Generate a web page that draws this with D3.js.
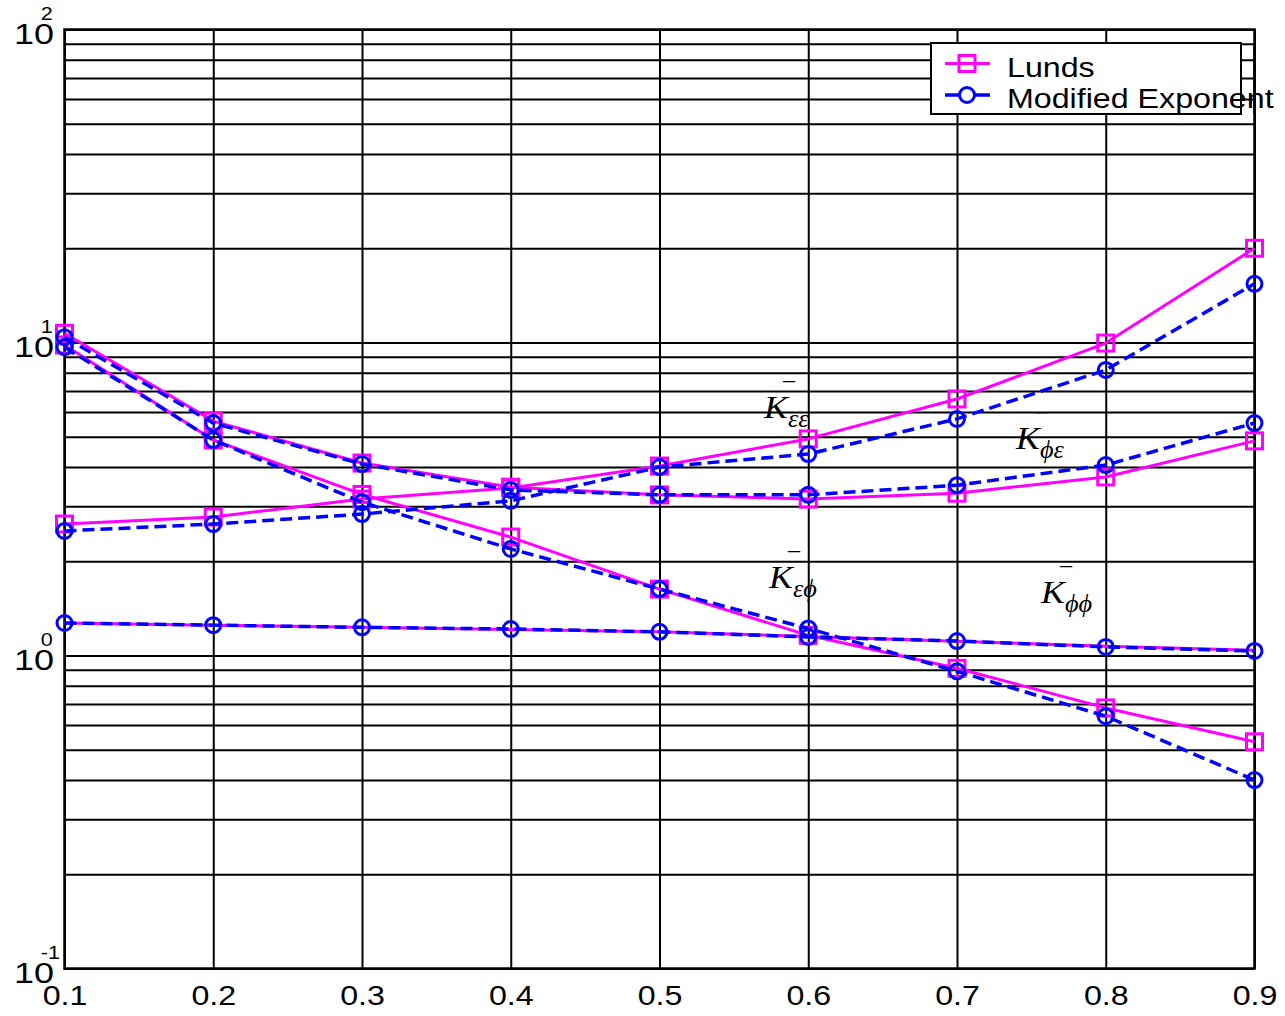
<!DOCTYPE html>
<html>
<head>
<meta charset="utf-8">
<script src="https://cdn.jsdelivr.net/npm/d3@7"></script>
<style>
  body { margin: 0; background: #fff; }
  svg text { font-family: "Liberation Sans", Arial, Helvetica, sans-serif; fill: #000; }
  svg text.math { font-family: "Liberation Serif", "Times New Roman", serif; font-style: italic; }
</style>
</head>
<body>
<svg id="chart" width="1285" height="1016"></svg>
<script>
// ---- data ----
const xValues = [0.1, 0.2, 0.3, 0.4, 0.5, 0.6, 0.7, 0.8, 0.9];
const xTickLabels = ["0.1", "0.2", "0.3", "0.4", "0.5", "0.6", "0.7", "0.8", "0.9"];
const yDecadeExponents = [-1, 0, 1, 2];
const yDecadeLabels = ["-1", "0", "1", "2"];

// K_εε
const lundsKee  = [2.63, 2.77, 3.16, 3.43, 4.03, 4.92, 6.60, 9.96, 20.0];
const modExpKee = [2.50, 2.63, 2.83, 3.12, 4.00, 4.40, 5.70, 8.17, 15.4];
// K_φε
const lundsKpe  = [10.7, 5.61, 4.12, 3.45, 3.26, 3.16, 3.30, 3.72, 4.85];
const modExpKpe = [10.4, 5.53, 4.09, 3.38, 3.26, 3.26, 3.50, 4.06, 5.53];
// K_εφ
const lundsKep  = [9.82, 4.88, 3.27, 2.39, 1.63, 1.16, 0.91, 0.68, 0.53];
const modExpKep = [9.67, 4.88, 3.09, 2.19, 1.63, 1.22, 0.89, 0.64, 0.40];
// K_φφ
const lundsKpp  = [1.27, 1.25, 1.23, 1.21, 1.19, 1.15, 1.11, 1.07, 1.04];
const modExpKpp = [1.27, 1.25, 1.23, 1.215, 1.19, 1.146, 1.112, 1.065, 1.034];

const seriesNames = ["Lunds", "Modified Exponent"];
const curveLabels = [
  { sub: "εε", x: 764, y: 418 },
  { sub: "ϕε", x: 1016, y: 449 },
  { sub: "εϕ", x: 769, y: 588 },
  { sub: "ϕϕ", x: 1041, y: 603 }
];

// ---- layout ----
const M = { left: 64.5, right: 1254.5, top: 29.5, bottom: 968.5 };
const SX = 1.15;           // horizontal stretch of the lettering
const MAGENTA = "#ff00ff", BLUE = "#0000ff";

const x = d3.scaleLinear().domain([0.1, 0.9]).range([M.left, M.right]);
const y = d3.scaleLog().domain([0.1, 100]).range([M.bottom, M.top]);

const svg = d3.select("#chart");

function label(parent, px, py, str, size, anchor, cls, sx = SX) {
  const g = parent.append("g").attr("transform", `translate(${px},${py}) scale(${sx},1)`);
  return g.append("text").attr("class", cls || null)
    .attr("text-anchor", anchor || "start")
    .style("font-size", size + "px").text(str);
}

// horizontal grid (log decades with minor lines)
const yGrid = svg.append("g").attr("transform", `translate(${M.left},0)`)
  .call(d3.axisLeft(y).ticks(10).tickSize(-(M.right - M.left)).tickFormat(""));
yGrid.select(".domain").remove();
yGrid.selectAll("line").attr("stroke", "#000").attr("stroke-width", 2);

// vertical grid + x tick labels
const xAxis = svg.append("g").attr("transform", `translate(0,${M.bottom})`)
  .call(d3.axisBottom(x).tickValues(xValues).tickSize(-(M.bottom - M.top))
    .tickFormat((d, i) => xTickLabels[i]));
xAxis.select(".domain").remove();
xAxis.selectAll("line").attr("stroke", "#000").attr("stroke-width", 2);
xAxis.selectAll("text")
  .attr("y", 36.5).attr("dy", null)
  .attr("transform", `scale(${SX},1)`)
  .style("font-size", "28px")
  .style("font-family", '"Liberation Sans", Arial, sans-serif')
  .attr("fill", "#000");

// axes frame
svg.append("rect")
  .attr("x", M.left).attr("y", M.top)
  .attr("width", M.right - M.left).attr("height", M.bottom - M.top)
  .attr("fill", "none").attr("stroke", "#000").attr("stroke-width", 2.5);

// decade labels 10^n (base and raised exponent in one text)
yDecadeExponents.forEach((e, i) => {
  const ty = y(Math.pow(10, e));
  const g = svg.append("g").attr("transform", `translate(14,${ty + 14}) scale(1.2,1)`);
  const t = g.append("text").style("font-size", "30px");
  t.append("tspan").text("10");
  t.append("tspan").attr("dx", -11).attr("dy", -23.5)
    .style("font-size", "18px").text(yDecadeLabels[i]);
});

// ---- curves ----
const line = d3.line().x((d, i) => x(xValues[i])).y(d => y(d));
const plot = svg.append("g");

function drawLunds(vals, markers) {
  plot.append("path").datum(vals).attr("d", line)
    .attr("fill", "none").attr("stroke", MAGENTA).attr("stroke-width", 3)
    .attr("stroke-linejoin", "round");
  if (!markers) return;
  plot.append("g").selectAll("rect").data(vals).join("rect")
    .attr("x", (d, i) => x(xValues[i]) - 8).attr("y", d => y(d) - 8)
    .attr("width", 16).attr("height", 16)
    .attr("fill", "none").attr("stroke", MAGENTA).attr("stroke-width", 3);
}
function drawModExp(vals) {
  plot.append("path").datum(vals).attr("d", line)
    .attr("fill", "none").attr("stroke", BLUE).attr("stroke-width", 3.5)
    .attr("stroke-dasharray", "12,6");
  plot.append("g").selectAll("circle").data(vals).join("circle")
    .attr("cx", (d, i) => x(xValues[i])).attr("cy", d => y(d)).attr("r", 7.5)
    .attr("fill", "none").attr("stroke", BLUE).attr("stroke-width", 3);
}

drawLunds(lundsKpp, false);
drawLunds(lundsKee, true);
drawLunds(lundsKpe, true);
drawLunds(lundsKep, true);
drawModExp(modExpKpp);
drawModExp(modExpKee);
drawModExp(modExpKpe);
drawModExp(modExpKep);

// curve annotations: K with overbar and Greek subscripts
curveLabels.forEach(c => {
  label(svg, c.x, c.y, "K", 31, "start", "math");
  label(svg, c.x + 19, c.y - 31, "–", 24, "start", "math", 1);
  label(svg, c.x + 24, c.y + 9, c.sub, 25, "start", "math", 1.05);
});

// ---- legend ----
const lg = svg.append("g");
lg.append("rect").attr("x", 931).attr("y", 43).attr("width", 310).attr("height", 71)
  .attr("fill", "#fff").attr("stroke", "#000").attr("stroke-width", 2);
// right frame edge stays visible across the legend box
lg.append("line").attr("x1", M.right).attr("x2", M.right).attr("y1", 43).attr("y2", 114)
  .attr("stroke", "#000").attr("stroke-width", 2.5);

const rowY = [63.5, 95];
lg.append("line").attr("x1", 945).attr("x2", 990).attr("y1", rowY[0]).attr("y2", rowY[0])
  .attr("stroke", MAGENTA).attr("stroke-width", 3);
lg.append("rect").attr("x", 967 - 8).attr("y", rowY[0] - 8).attr("width", 16).attr("height", 16)
  .attr("fill", "none").attr("stroke", MAGENTA).attr("stroke-width", 3);
lg.append("line").attr("x1", 945).attr("x2", 990).attr("y1", rowY[1]).attr("y2", rowY[1])
  .attr("stroke", BLUE).attr("stroke-width", 3.5).attr("stroke-dasharray", "15,15");
lg.append("circle").attr("cx", 967).attr("cy", rowY[1]).attr("r", 7.5)
  .attr("fill", "none").attr("stroke", BLUE).attr("stroke-width", 3);

label(lg, 1007, 76.5, seriesNames[0], 28, "start");
label(lg, 1007, 108, seriesNames[1], 28, "start");
</script>
</body>
</html>
